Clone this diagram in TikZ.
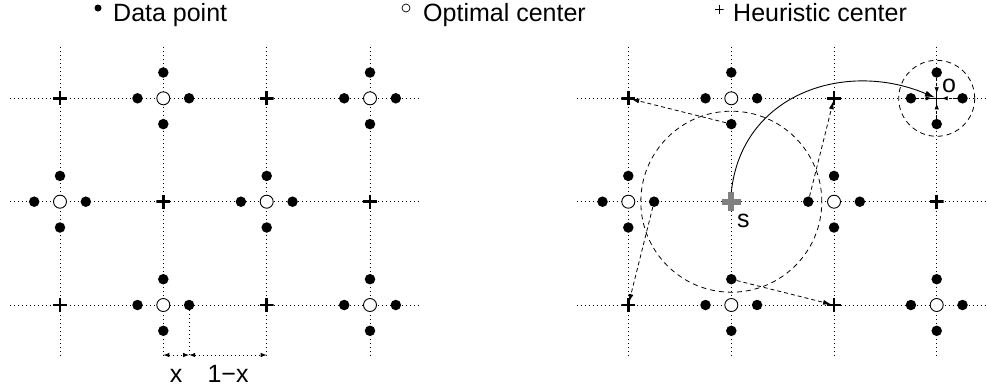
\documentclass[tikz,border=0pt]{standalone}
\usepackage{fontspec}
\setmainfont{Liberation Sans}
\usetikzlibrary{arrows.meta}
\begin{document}
\begin{tikzpicture}[x=1pt,y=-1pt,
  gridline/.style={line width=0.9pt, dash pattern=on 1pt off 3pt},
  datapt/.style={circle, fill=black, inner sep=0pt, minimum size=10.5pt},
  optc/.style={circle, draw, fill=white, line width=0.9pt, inner sep=0pt, minimum size=13pt},
  plusmark/.style={inner sep=0pt, minimum size=#1,
    path picture={\draw[line width=\pgfkeysvalueof{/tikz/plusw}, draw=\pgfkeysvalueof{/tikz/plusc}]
      (path picture bounding box.north) -- (path picture bounding box.south)
      (path picture bounding box.west) -- (path picture bounding box.east);}},
  plusw/.initial=2.6pt, plusc/.initial=black,
  heur/.style={plusmark=14pt},
  lbl/.style={inner sep=0pt, font=\fontsize{25}{30}\selectfont},
  dasharrow/.style={dashed, dash pattern=on 4pt off 3pt, line width=0.8pt, -{Latex[length=8pt,width=5pt]}, shorten >=3pt},
  dimarrow/.style={gridline, {Latex[length=6pt,width=4.5pt]}-{Latex[length=6pt,width=4.5pt]}},
  dcirc/.style={circle, draw, dash pattern=on 5pt off 4pt, line width=0.8pt, inner sep=0pt}
]
\useasboundingbox (0,0) rectangle (987,391);

% ---------- legend ----------
\node[circle, fill=black, inner sep=0pt, minimum size=7pt] (legdot) at (98,8) {};
\node[lbl, anchor=base west] (legdata) at (113,21) {Data point};
\node[circle, draw, line width=0.7pt, inner sep=0pt, minimum size=8pt] (legopt) at (406,8) {};
\node[lbl, anchor=base west] (legoptt) at (423,21) {Optimal center};
\node[plusmark=9pt, plusw=0.8pt] (legheur) at (719,9) {};
\node[lbl, anchor=base west] (legheurt) at (733,21) {Heuristic center};

% ---------- grid lines ----------
\foreach \x in {60,163.3,266.7,370} \draw[gridline] (\x,46.7) -- (\x,355);
\foreach \y in {98.3,201.7,305} \draw[gridline] (10,\y) -- (421.7,\y);
\foreach \x in {628.3,731.3,834,936.7} \draw[gridline] (\x,46.7) -- (\x,355);
\foreach \y in {98.3,201.7,305} \draw[gridline] (576.7,\y) -- (987,\y);

% ---------- optimal centres with data points ----------
\foreach \x/\y/\n in {163.3/98.3/LA,370/98.3/LB,60/201.7/LC,266.7/201.7/LD,163.3/305/LE,370/305/LF,
                      731.3/98.3/RA,628.3/201.7/RB,834/201.7/RC,731.3/305/RD,936.7/305/RE}{
  \node[datapt] (\n-n) at (\x,\y-25.8) {};
  \node[datapt] (\n-s) at (\x,\y+25.8) {};
  \node[datapt] (\n-w) at (\x-25.8,\y) {};
  \node[datapt] (\n-e) at (\x+25.8,\y) {};
  \node[optc] (\n) at (\x,\y) {};
}

% ---------- heuristic centres ----------
\foreach \x/\y/\n in {60/98.3/LH1,266.7/98.3/LH2,163.3/201.7/LH3,370/201.7/LH4,60/305/LH5,266.7/305/LH6,
                      628.3/98.3/RH1,834/98.3/RH2,936.7/201.7/RH3,628.3/305/RH4,834/305/RH5}{
  \node[heur] (\n) at (\x,\y) {};
}

% ---------- dimension (left panel) ----------
\coordinate (dimL) at (163.3,355);
\coordinate (dimM) at (189.1,355);
\coordinate (dimR) at (266.7,355);
\draw[gridline] (LE-e) -- (dimM);
\draw[dimarrow] (dimL) -- (dimM);
\draw[dimarrow] (dimM) -- (dimR);
\node[lbl, anchor=base] (xlbl) at (176.2,382) {x};
\node[lbl, anchor=base] (omxlbl) at (228,382) {1−x};

% ---------- right panel: start point s ----------
\node[plusmark=19pt, plusw=6pt, plusc=gray] (S) at (731.3,201.7) {};
\node[lbl, anchor=base west] (slbl) at (737,227) {s};
\node[dcirc, minimum size=181pt] (bigc) at (S.center) {};
\draw[dasharrow] (RA-s) -- (RH1.center);
\draw[dasharrow] (RB-e) -- (RH4.center);
\draw[dasharrow] (RC-w) -- (RH2.center);
\draw[dasharrow] (RD-n) -- (RH5.center);

% ---------- right panel: cluster o ----------
\coordinate (T) at (936.7,98.3);
\node[datapt] (T-n) at (936.7,72.5) {};
\node[datapt] (T-s) at (936.7,124.1) {};
\node[datapt] (T-w) at (910.9,98.3) {};
\node[datapt] (T-e) at (962.5,98.3) {};
\node[plusmark=15pt, plusw=1pt] (TH) at (T) {};
\node[dcirc, minimum size=76pt] (smallc) at (T) {};
\foreach \d in {n,s,w,e}
  \draw[dashed, dash pattern=on 3pt off 2pt, line width=0.8pt, -{Latex[length=6pt,width=4.5pt]}, shorten >=5pt] (T-\d) -- (T);
\node[lbl, anchor=base west] (olbl) at (942,92) {o};

% ---------- solid move arrow ----------
\draw[line width=0.9pt, -{Latex[length=10pt,width=6pt]}, shorten >=2pt] (S.north) to[out=84, in=157, looseness=1.12] (T);

\end{tikzpicture}
\end{document}
